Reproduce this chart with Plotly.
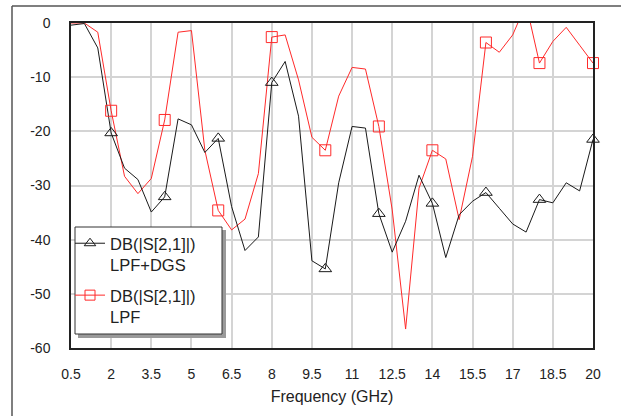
import plotly.graph_objects as go

freq = [0.5, 1.0, 1.5, 2.0, 2.5, 3.0, 3.5, 4.0, 4.5, 5.0,
        5.5, 6.0, 6.5, 7.0, 7.5, 8.0, 8.5, 9.0, 9.5, 10.0,
        10.5, 11.0, 11.5, 12.0, 12.5, 13.0, 13.5, 14.0, 14.5, 15.0,
        15.5, 16.0, 16.5, 17.0, 17.5, 18.0, 18.5, 19.0, 19.5, 20.0]

s21_dgs = [-0.4, -0.1, -4.6, -20.3, -26.8, -28.9, -34.9, -32.1, -17.7, -18.8,
           -23.9, -21.3, -33.9, -42.0, -39.5, -11.0, -7.1, -17.2, -43.9, -45.4,
           -29.5, -19.1, -19.4, -35.2, -42.3, -36.6, -28.1, -33.3, -43.3, -35.4,
           -32.9, -31.3, -34.2, -37.1, -38.6, -32.6, -33.2, -29.5, -31.0, -21.5]

s21_lpf = [0.0, 0.0, -1.7, -16.2, -28.3, -31.5, -28.7, -17.9, -1.7, -1.4,
           -23.5, -34.6, -38.2, -36.2, -27.8, -2.6, -2.2, -10.5, -21.1, -23.5,
           -13.5, -8.2, -8.5, -19.1, -34.5, -56.5, -30.5, -23.5, -25.1, -36.3,
           -24.6, -3.6, -5.4, -2.2, 3.5, -7.4, -3.4, -0.8, -4.1, -7.4]

marker_freq = [2.0, 4.0, 6.0, 8.0, 10.0, 12.0, 14.0, 16.0, 18.0, 20.0]

x_ticks = [0.5, 2, 3.5, 5, 6.5, 8, 9.5, 11, 12.5, 14, 15.5, 17, 18.5, 20]
x_tick_text = ["0.5", "2", "3.5", "5", "6.5", "8", "9.5", "11", "12.5", "14", "15.5", "17", "18.5", "20"]
y_ticks = [0, -10, -20, -30, -40, -50, -60]
y_tick_text = ["0", "-10", "-20", "-30", "-40", "-50", "-60"]

name_dgs = "DB(|S[2,1]|)<br>LPF+DGS"
name_lpf = "DB(|S[2,1]|)<br>LPF"

BLACK = "#1a1a1a"
RED = "#ff2a2a"

def pick(xs, ys, keep):
    return [y for x, y in zip(xs, ys) if x in keep]

fig = go.Figure()

fig.add_trace(go.Scatter(x=freq, y=s21_lpf, mode="lines", line=dict(color=RED, width=1),
                         showlegend=False, hoverinfo="skip"))
fig.add_trace(go.Scatter(x=freq, y=s21_dgs, mode="lines", line=dict(color=BLACK, width=1),
                         showlegend=False, hoverinfo="skip"))
fig.add_trace(go.Scatter(x=marker_freq, y=pick(freq, s21_lpf, marker_freq), mode="markers",
                         marker=dict(symbol="square-open", size=11, color=RED, line=dict(width=1)),
                         showlegend=False, cliponaxis=False))
fig.add_trace(go.Scatter(x=marker_freq, y=pick(freq, s21_dgs, marker_freq), mode="markers",
                         marker=dict(symbol="triangle-up-open", size=11, color=BLACK, line=dict(width=1)),
                         showlegend=False, cliponaxis=False))
fig.add_trace(go.Scatter(x=[None], y=[None], mode="lines+markers", name=name_dgs, legendgroup="a",
                         line=dict(color=BLACK, width=1),
                         marker=dict(symbol="triangle-up-open", size=10, color=BLACK)))
fig.add_trace(go.Scatter(x=[None], y=[None], mode="lines+markers", name=name_lpf, legendgroup="b",
                         line=dict(color=RED, width=1),
                         marker=dict(symbol="square-open", size=10, color=RED)))

L, R, T, B = 71, 28, 23, 68
W, H = 621, 416
pw, ph = W - L - R, H - T - B

def px2paper_x(px):
    return (px - L) / pw

def px2paper_y(py):
    return (H - B - py) / ph

shapes = [
    dict(type="line", xref="paper", yref="paper", x0=px2paper_x(12), x1=px2paper_x(621),
         y0=px2paper_y(6), y1=px2paper_y(6), line=dict(color="#555555", width=1.5)),
    dict(type="line", xref="paper", yref="paper", x0=px2paper_x(12), x1=px2paper_x(12),
         y0=px2paper_y(6), y1=px2paper_y(416), line=dict(color="#555555", width=1.5)),
    dict(type="rect", xref="paper", yref="paper", x0=px2paper_x(78), x1=px2paper_x(226),
         y0=px2paper_y(338), y1=px2paper_y(230), fillcolor="#9a9a9a", line=dict(width=0),
         layer="above"),
    dict(type="rect", xref="paper", yref="paper", x0=px2paper_x(75), x1=px2paper_x(222),
         y0=px2paper_y(334), y1=px2paper_y(227), fillcolor="white",
         line=dict(color="#333333", width=1), layer="above"),
]

fig.update_layout(
    width=W, height=H,
    margin=dict(l=L, r=R, t=T, b=B, pad=0),
    paper_bgcolor="white", plot_bgcolor="white",
    font=dict(family="Liberation Sans, Arial, sans-serif", size=14, color="#222222"),
    showlegend=True,
    legend=dict(x=px2paper_x(70), y=px2paper_y(226), xanchor="left", yanchor="top",
                bgcolor="rgba(0,0,0,0)", borderwidth=0,
                font=dict(size=16.5, color="#222222"), valign="top",
                tracegroupgap=6, itemwidth=30),
    shapes=shapes,
)

fig.update_xaxes(range=[0.5, 20], tickvals=x_ticks, ticktext=x_tick_text,
                 showgrid=True, gridcolor="#d4d4d4", gridwidth=1.5,
                 showline=True, mirror=True, linecolor="#222222", linewidth=1.5,
                 zeroline=False, ticks="", ticklabelstandoff=12,
                 title=dict(text="Frequency (GHz)", font=dict(size=16), standoff=10))
fig.update_yaxes(range=[-60, 0], tickvals=y_ticks, ticktext=y_tick_text,
                 showgrid=True, gridcolor="#d4d4d4", gridwidth=1.5,
                 showline=True, mirror=True, linecolor="#222222", linewidth=1.5,
                 zeroline=False, ticks="", ticklabelstandoff=16)

fig.write_html("out.html")
